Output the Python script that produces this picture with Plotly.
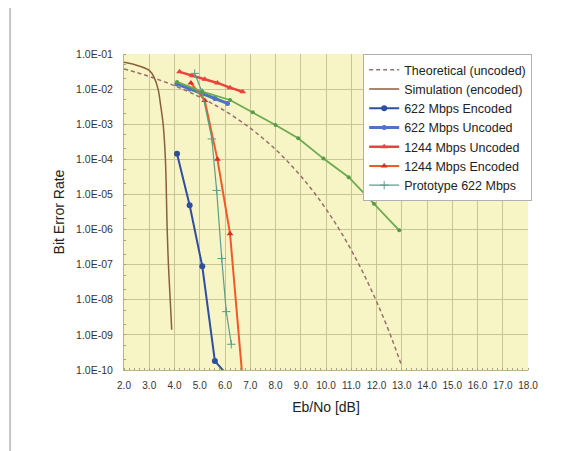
import plotly.graph_objects as go

# ---- data ----
theory_x = [2.0, 2.5, 3.0, 3.5, 4.0, 4.5, 5.0, 5.5, 6.0, 6.5, 7.0, 7.5, 8.0,
            8.5, 9.0, 9.5, 10.0, 10.5, 11.0, 11.5, 12.0, 12.5, 13.0]
theory_y = [3.75e-2, 2.97e-2, 2.29e-2, 1.72e-2, 1.25e-2, 8.8e-3, 5.95e-3, 3.86e-3,
            2.39e-3, 1.40e-3, 7.73e-4, 3.98e-4, 1.91e-4, 8.4e-5, 3.36e-5, 1.21e-5,
            3.87e-6, 1.08e-6, 2.61e-7, 5.3e-8, 9.0e-9, 1.23e-9, 1.3e-10]

sim_x = [2.0, 2.5, 3.0, 3.2, 3.35, 3.45, 3.55, 3.64, 3.71, 3.76, 3.83, 3.89]
sim_y = [5.8e-2, 4.8e-2, 3.4e-2, 2.1e-2, 1.0e-2, 3.5e-3, 1.0e-3, 1.0e-4, 1.0e-6,
         1.0e-7, 1.0e-8, 1.4e-9]

enc622_x = [4.1, 4.6, 5.1, 5.6, 6.1]
enc622_y = [1.45e-4, 4.9e-6, 9.0e-8, 1.8e-10, 7.0e-11]

unc622_x = [4.1, 4.6, 5.1, 5.6, 6.1]
unc622_y = [1.4e-2, 1.0e-2, 7.5e-3, 5.4e-3, 3.9e-3]

unc1244_x = [4.2, 4.7, 5.2, 5.7, 6.2, 6.7]
unc1244_y = [3.1e-2, 2.4e-2, 1.9e-2, 1.5e-2, 1.1e-2, 8.4e-3]

enc1244_x = [4.65, 5.2, 5.7, 6.2, 6.7]
enc1244_y = [1.5e-2, 4.7e-3, 1.0e-4, 7.6e-7, 5.0e-11]

proto_x = [4.8, 5.1, 5.48, 5.67, 5.87, 6.05, 6.25]
proto_y = [2.8e-2, 8.0e-3, 3.8e-4, 1.3e-5, 1.5e-7, 4.6e-9, 5.4e-10]

proto_unc_x = [4.1, 5.1, 6.2, 7.1, 8.0, 8.9, 9.9, 10.9, 11.9, 12.9]
proto_unc_y = [1.6e-2, 8.5e-3, 4.9e-3, 2.2e-3, 9.5e-4, 4.0e-4, 1.05e-4, 3.1e-5,
               5.4e-6, 9.5e-7]

y_ticks = [1e-10, 1e-9, 1e-8, 1e-7, 1e-6, 1e-5, 1e-4, 1e-3, 1e-2, 1e-1]
y_tick_labels = ["1.0E-10", "1.0E-09", "1.0E-08", "1.0E-07", "1.0E-06",
                 "1.0E-05", "1.0E-04", "1.0E-03", "1.0E-02", "1.0E-01"]
x_ticks = [2, 3, 4, 5, 6, 7, 8, 9, 10, 11, 12, 13, 14, 15, 16, 17, 18]
x_tick_labels = ["2.0", "3.0", "4.0", "5.0", "6.0", "7.0", "8.0", "9.0", "10.0",
                 "11.0", "12.0", "13.0", "14.0", "15.0", "16.0", "17.0", "18.0"]

fig = go.Figure()

fig.add_trace(go.Scatter(x=theory_x, y=theory_y, name="Theoretical (uncoded)",
                         mode="lines", line=dict(color="#9a6e6e", width=1.5, dash="4px,3px", shape="spline")))
fig.add_trace(go.Scatter(x=sim_x, y=sim_y, name="Simulation (encoded)",
                         mode="lines", line=dict(color="#8c5e3c", width=1.5, shape="spline")))
fig.add_trace(go.Scatter(x=enc622_x, y=enc622_y, name="622 Mbps Encoded",
                         mode="lines+markers", line=dict(color="#2f4f9e", width=2),
                         marker=dict(size=6, color="#2f4f9e")))
fig.add_trace(go.Scatter(x=unc622_x, y=unc622_y, name="622 Mbps Uncoded",
                         mode="lines+markers", line=dict(color="#4d74c2", width=3),
                         marker=dict(size=5, color="#4d74c2")))
fig.add_trace(go.Scatter(x=unc1244_x, y=unc1244_y, name="1244 Mbps Uncoded",
                         mode="lines+markers", line=dict(color="#e8443c", width=2.5),
                         marker=dict(size=6, symbol="triangle-up", color="#e8443c")))
fig.add_trace(go.Scatter(x=enc1244_x, y=enc1244_y, name="1244 Mbps Encoded",
                         mode="lines+markers", line=dict(color="#f05a28", width=2),
                         marker=dict(size=6, symbol="triangle-up", color="#e02a20")))
fig.add_trace(go.Scatter(x=proto_x, y=proto_y, name="Prototype 622 Mbps",
                         mode="lines+markers", line=dict(color="#5e9c8c", width=1.2),
                         marker=dict(size=6, symbol="cross-thin", color="#5e9c8c",
                                     line=dict(width=1, color="#5e9c8c"))))
fig.add_trace(go.Scatter(x=proto_unc_x, y=proto_unc_y, name="Prototype 622 Mbps (uncoded)",
                         showlegend=False, mode="lines+markers",
                         line=dict(color="#6cab50", width=1.8),
                         marker=dict(size=4, color="#5a9a46")))

fig.update_layout(
    width=565, height=443, autosize=False,
    margin=dict(l=116, r=45, t=46, b=81),
    paper_bgcolor="white", plot_bgcolor="#f7f5c6",
    font=dict(family="Liberation Sans, Arial, sans-serif", color="#222222"),
    showlegend=True,
    legend=dict(x=0.592, y=1.0, xanchor="left", yanchor="top",
                bgcolor="white", bordercolor="#b0b0b0", borderwidth=1,
                font=dict(size=12.5, color="#222222"), tracegroupgap=0,
                itemwidth=30),
    shapes=[dict(type="line", xref="paper", yref="paper",
                 x0=-0.282, x1=-0.282, y0=-0.26, y1=1.15,
                 line=dict(color="#c4c4c4", width=2))],
)

fig.update_xaxes(
    range=[2, 18], tickvals=x_ticks, ticktext=x_tick_labels, automargin=False,
    tickfont=dict(size=10, color="#333333"), ticklabelstandoff=6,
    showgrid=True, gridcolor="#c9c592", gridwidth=1,
    showline=True, linecolor="#b8b48a", linewidth=1,
    ticks="", zeroline=False,
    minor=dict(dtick=0.2, ticks="inside", ticklen=2, tickcolor="#a8a47a", showgrid=False),
    title=dict(text="Eb/No [dB]", font=dict(size=14, color="#222222"), standoff=12),
)
fig.update_yaxes(
    type="log", range=[-10, -1], tickvals=y_ticks, ticktext=y_tick_labels, automargin=False,
    tickfont=dict(size=10.5, color="#333333"), ticklabelstandoff=8,
    showgrid=True, gridcolor="#c9c592", gridwidth=1,
    showline=True, linecolor="#b8b48a", linewidth=1,
    ticks="", zeroline=False,
    minor=dict(ticks="inside", ticklen=2, tickcolor="#a8a47a", showgrid=False),
    title=dict(text="Bit Error Rate", font=dict(size=14, color="#222222"), standoff=8),
)

fig.write_html("out.html")
